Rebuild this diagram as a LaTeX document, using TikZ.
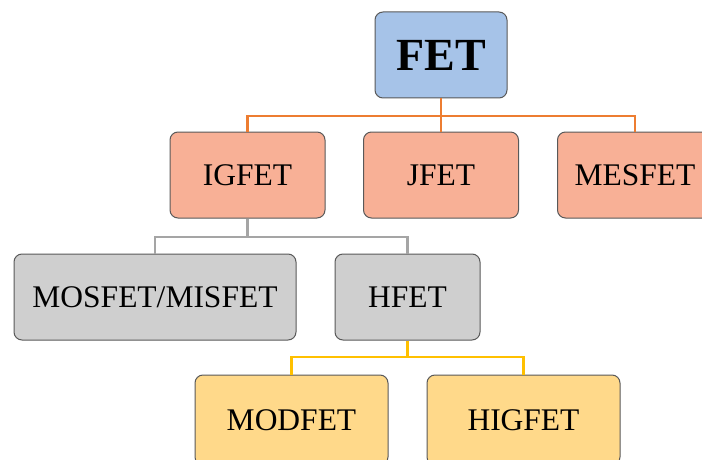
\documentclass[tikz,border=0pt]{standalone}
\usepackage{fontspec}
\setmainfont{Liberation Serif}
\begin{document}
\begin{tikzpicture}[x=1pt,y=-1pt,
  box/.style={draw=black!65, line width=1pt, rounded corners=8pt, inner sep=0pt, font=\fontsize{31.5}{36}\selectfont},
  bluebox/.style={box, fill=fetblue},
  orangebox/.style={box, fill=fetorange, minimum width=155pt, minimum height=86pt},
  graybox/.style={box, fill=fetgray, minimum height=86pt},
  yellowbox/.style={box, fill=fetyellow, minimum width=193pt, minimum height=90pt},
  orangeline/.style={draw=lineorange, line width=2.4pt},
  grayline/.style={draw=linegray, line width=2.4pt},
  yellowline/.style={draw=lineyellow, line width=2.4pt}
]
\definecolor{fetblue}{RGB}{166,195,232}
\definecolor{fetorange}{RGB}{248,176,150}
\definecolor{fetgray}{RGB}{207,207,207}
\definecolor{fetyellow}{RGB}{255,217,138}
\definecolor{lineorange}{RGB}{237,125,49}
\definecolor{linegray}{RGB}{165,165,165}
\definecolor{lineyellow}{RGB}{255,192,0}
\useasboundingbox (0,0) rectangle (702,460);
\clip (0,0) rectangle (702,460);

\coordinate (o1) at (441,116);
\coordinate (g1) at (247,237);
\coordinate (y1) at (407,357);

\node[bluebox, minimum width=132pt, minimum height=86pt, font=\fontsize{46}{52}\selectfont\bfseries] (fet) at (441,55) {FET};
\node[orangebox] (igfet) at (247.5,175) {IGFET};
\node[orangebox] (jfet) at (441,175) {JFET};
\node[orangebox] (mesfet) at (635,175) {MESFET};
\node[graybox, minimum width=282pt] (mosfet) at (155,297) {MOSFET/MISFET};
\node[graybox, minimum width=145pt] (hfet) at (407.5,297) {HFET};
\node[yellowbox] (modfet) at (291.5,420) {MODFET};
\node[yellowbox] (higfet) at (523.5,420) {HIGFET};

\path[orangeline] (fet.south) -- (fet.south |- o1) -| (igfet.north);
\path[orangeline] (fet.south |- o1) -- (jfet.north);
\path[orangeline] (fet.south |- o1) -| (mesfet.north);
\path[grayline] (igfet.south) -- (igfet.south |- g1) -| (mosfet.north);
\path[grayline] (igfet.south |- g1) -| (hfet.north);
\path[yellowline] (hfet.south) -- (hfet.south |- y1) -| (modfet.north);
\path[yellowline] (hfet.south |- y1) -| (higfet.north);
\end{tikzpicture}
\end{document}
